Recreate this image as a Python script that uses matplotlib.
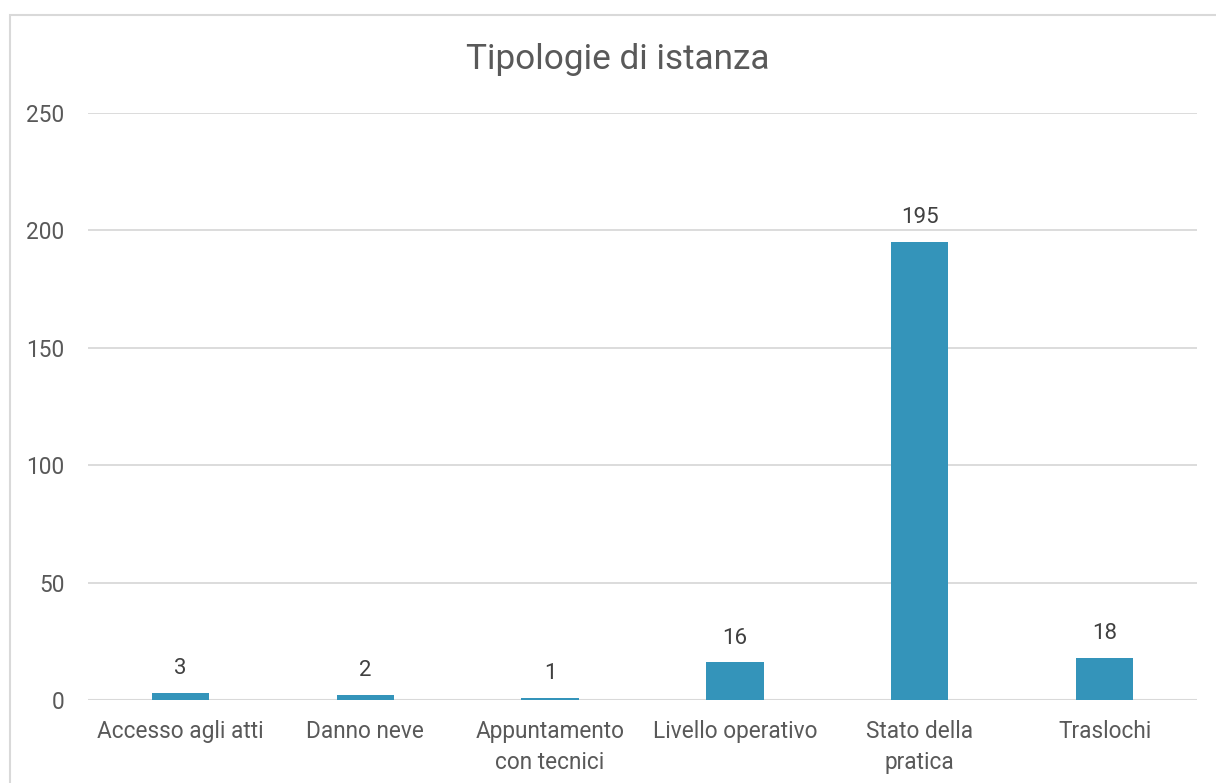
import matplotlib
matplotlib.use("Agg")
import matplotlib.pyplot as plt
from matplotlib.patches import Rectangle

categories = ["Accesso agli atti", "Danno neve", "Appuntamento\ncon tecnici",
              "Livello operativo", "Stato della\npratica", "Traslochi"]
values = [3, 2, 1, 16, 195, 18]
yticks = [0, 50, 100, 150, 200, 250]
title = "Tipologie di istanza"

plt.rcParams['font.family'] = ['Roboto', 'DejaVu Sans']
txt = "#595959"
grid = "#D9D9D9"
bar_color = "#3494BA"

fig = plt.figure(figsize=(12.16, 7.83), dpi=100)
fig.patches.append(Rectangle((10/1216, -0.2), 1.5, 0.2 + (1 - 15/783),
                             transform=fig.transFigure, fill=False,
                             edgecolor=grid, linewidth=1.5, clip_on=False))
ax = fig.add_axes([88/1216, 1 - 700/783, (1197 - 88)/1216, (700 - 113)/783])

x = list(range(len(categories)))
bars = ax.bar(x, values, width=0.31, color=bar_color, zorder=3)
ax.set_xlim(-0.5, len(categories) - 0.5)
ax.set_ylim(0, 250)
ax.set_yticks(yticks)
ax.set_yticklabels([str(v) for v in yticks])
ax.set_xticks(x)
ax.set_xticklabels(categories, linespacing=1.42)
ax.tick_params(axis='both', length=0, labelsize=16.3, colors=txt)
ax.tick_params(axis='y', pad=17)
ax.tick_params(axis='x', pad=14.5)
ax.yaxis.grid(True, color=grid, linewidth=1.3, zorder=0)
for s in ax.spines.values():
    s.set_visible(False)
ax.axhline(0, color=grid, linewidth=1.5, zorder=2)

for xi, v in zip(x, values):
    ax.annotate(str(v), (xi, v), xytext=(0, 10), textcoords='offset points',
                ha='center', va='bottom', fontsize=16, color="#404040")

fig.text(618/1216, 1 - 60/783, title, ha='center', va='center', fontsize=25.3, color=txt)

fig.savefig("out.png", dpi=100)
